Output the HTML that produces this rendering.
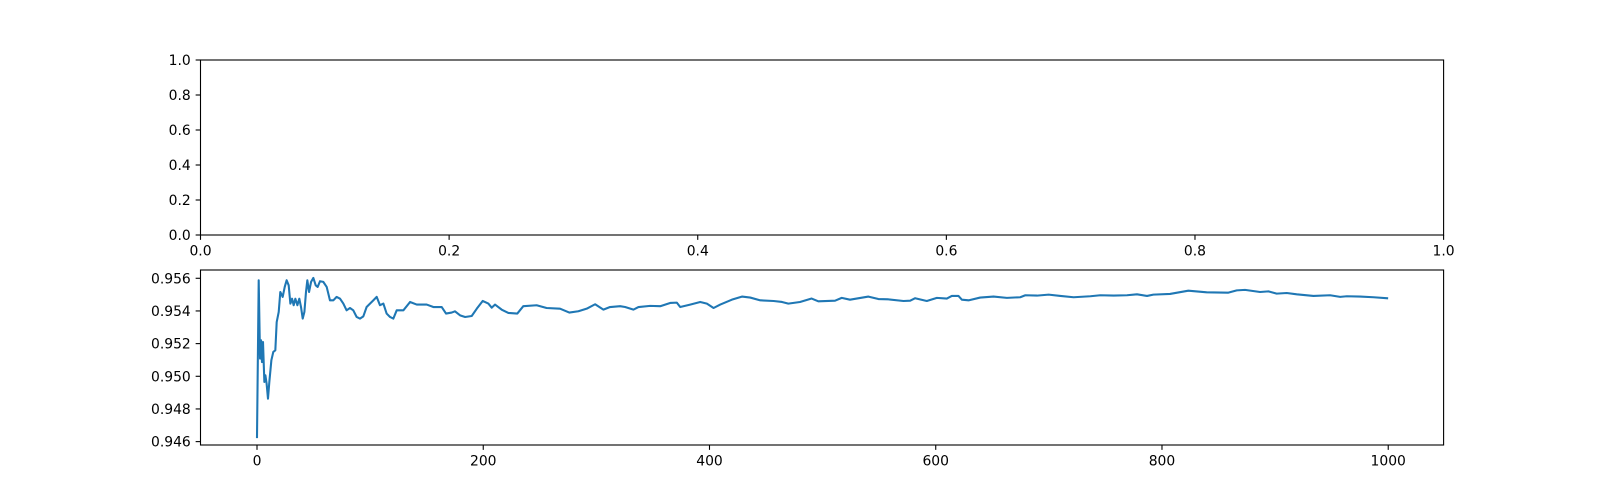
<!DOCTYPE html>
<html><head><meta charset="utf-8"><style>
html,body{margin:0;padding:0;background:#fff;}
svg{display:block;font-family:"DejaVu Sans","Liberation Sans",sans-serif;}
</style></head><body>
<svg id="fig" width="1604" height="500" viewBox="0 0 1604 500">
<rect width="1604" height="500" fill="#fff"/>
<g id="top"></g>
<g id="bot"></g>
</svg>
<script>
const topXTicks = [0.0, 0.2, 0.4, 0.6, 0.8, 1.0];
const topYTicks = [0.0, 0.2, 0.4, 0.6, 0.8, 1.0];
const botXTicks = [0, 200, 400, 600, 800, 1000];
const botYTicks = [0.946, 0.948, 0.950, 0.952, 0.954, 0.956];
const seriesX = [0,1.5,2.7,3.6,4.4,5.3,6.5,7.4,8.5,9.7,10.9,12.7,14.4,16.2,17.4,19.2,20.6,22.7,24.5,26.2,28,29.5,31,32.4,33.9,35.7,37.4,38.9,40.4,41.9,43.3,44.5,46,47.8,49.8,51.9,53.6,55.7,58.6,61.6,64.5,67.5,70.4,73.4,76.3,79.2,82.2,85.1,88.1,91,94,96.9,99.9,102.8,105.8,108.7,111.7,114.6,117.6,120.5,123.5,129.4,135.3,141.2,150,155.9,163.3,167.1,172.1,175,179.5,184,189.8,194.3,199.5,204.5,207.5,210.4,216.3,222.2,230.1,235.4,247.2,256,267.9,276.1,284.1,291.5,298.9,306.2,312.1,321,325.4,332.8,337.2,347.5,356.4,365.2,371.1,374.1,382.9,391.8,397.7,403.6,409.5,419.8,428.7,436,444.9,456.7,464.1,469.7,480,490.3,496.2,511,516.9,524.2,540.5,549.3,558.2,571.5,577.4,581.8,592.1,601,609.8,614.2,620.1,623.1,629,639.3,651.1,662.9,674.7,679.2,689.5,699.8,710.2,721.9,736.7,745.5,757.3,769.1,777.9,786.8,792.4,807.1,823.3,839.5,858.7,866.1,873.4,886.7,894.1,901.4,910.3,919.1,933.9,948.6,957.5,963.4,975.2,987,999];
const seriesY = [0.94628,0.95588,0.95108,0.95220,0.95087,0.95210,0.94965,0.95006,0.94955,0.94863,0.94965,0.95098,0.95149,0.95159,0.95332,0.95394,0.95516,0.95486,0.95547,0.95588,0.95557,0.95445,0.95475,0.95435,0.95475,0.95435,0.95475,0.95424,0.95353,0.95394,0.95516,0.95588,0.95516,0.95578,0.95602,0.95557,0.95547,0.95582,0.95578,0.95547,0.95465,0.95465,0.95486,0.95475,0.95445,0.95404,0.95418,0.95404,0.95363,0.95353,0.95367,0.95424,0.95445,0.95465,0.95486,0.95435,0.95445,0.95384,0.95363,0.95353,0.95404,0.95404,0.95455,0.95439,0.95439,0.95424,0.95424,0.95384,0.95390,0.95398,0.95373,0.95363,0.95369,0.95414,0.95461,0.95445,0.95420,0.95439,0.95408,0.95388,0.95384,0.95429,0.95435,0.95418,0.95414,0.95390,0.95398,0.95414,0.95441,0.95408,0.95424,0.95429,0.95424,0.95408,0.95424,0.95431,0.95429,0.95449,0.95451,0.95424,0.95439,0.95455,0.95445,0.95418,0.95439,0.95469,0.95488,0.95482,0.95465,0.95461,0.95455,0.95445,0.95455,0.95476,0.95459,0.95463,0.95480,0.95469,0.95488,0.95473,0.95471,0.95461,0.95463,0.95478,0.95461,0.95480,0.95476,0.95492,0.95492,0.95469,0.95465,0.95482,0.95488,0.95480,0.95484,0.95496,0.95494,0.95500,0.95492,0.95484,0.95490,0.95496,0.95494,0.95496,0.95502,0.95492,0.95500,0.95504,0.95524,0.95514,0.95512,0.95526,0.95529,0.95516,0.95520,0.95506,0.95510,0.95502,0.95492,0.95496,0.95486,0.95490,0.95488,0.95484,0.95478];

const NS = 'http://www.w3.org/2000/svg';
const L = 200.5, R = 1443.6;
const TK = 4.86, PAD = 4.86;
function mk(tag, attrs, parent){const e=document.createElementNS(NS,tag);for(const k in attrs)e.setAttribute(k,attrs[k]);parent.appendChild(e);return e;}

function drawAxes(g, top, bottom, xmin, xmax, ymin, ymax, xt, yt, fmtX, fmtY, prefix){
  const sx = v => L + (v - xmin) / (xmax - xmin) * (R - L);
  const sy = v => bottom - (v - ymin) / (ymax - ymin) * (bottom - top);
  xt.forEach(t => {
    const x = sx(t);
    const ln = mk('line', {x1:x, x2:x, y1:bottom, y2:bottom+TK, stroke:'#000','stroke-width':1.1}, g);
    
    
    const tx = mk('text', {x:x, y:bottom+TK+PAD+10.6, 'font-size':13.9, 'text-anchor':'middle', fill:'#000'}, g);
    tx.textContent = fmtX(t);
    
    
  });
  yt.forEach(t => {
    const y = sy(t);
    const ln = mk('line', {x1:L-TK, x2:L, y1:y, y2:y, stroke:'#000','stroke-width':1.1}, g);
    
    
    const tx = mk('text', {x:L-TK-PAD, y:y+5.1, 'font-size':13.9, 'text-anchor':'end', fill:'#000'}, g);
    tx.textContent = fmtY(t);
    
    
  });
  return {sx, sy};
}
function frame(g, top, bottom, prefix){
  const r = mk('rect', {x:L, y:top, width:R-L, height:bottom-top, fill:'none', stroke:'#000', 'stroke-width':1.1}, g);
  
  
}

const gt = document.getElementById('top');
drawAxes(gt, 60, 235, 0, 1, 0, 1, topXTicks, topYTicks, v=>v.toFixed(1), v=>v.toFixed(1), 'top');
frame(gt, 60, 235, 'top');

const gb = document.getElementById('bot');
const n = seriesX.length;
const dxmin = Math.min(...seriesX), dxmax = Math.max(...seriesX);
const dymin = Math.min(...seriesY), dymax = Math.max(...seriesY);
const mxr = (dxmax - dxmin) * 0.05, myr = (dymax - dymin) * 0.05;
const ax = drawAxes(gb, 270, 445, dxmin - mxr, dxmax + mxr, dymin - myr, dymax + myr, botXTicks, botYTicks, v=>String(v), v=>v.toFixed(3), 'bottom');
let d = '';
for (let i = 0; i < n; i++) d += (i ? 'L' : 'M') + ax.sx(seriesX[i]).toFixed(2) + ',' + ax.sy(seriesY[i]).toFixed(2);
const path = mk('path', {d:d, fill:'none', stroke:'#1f77b4', 'stroke-width':2.08, 'stroke-linejoin':'round', 'stroke-linecap':'square'}, gb);


frame(gb, 270, 445, 'bottom');
</script>
</body></html>
